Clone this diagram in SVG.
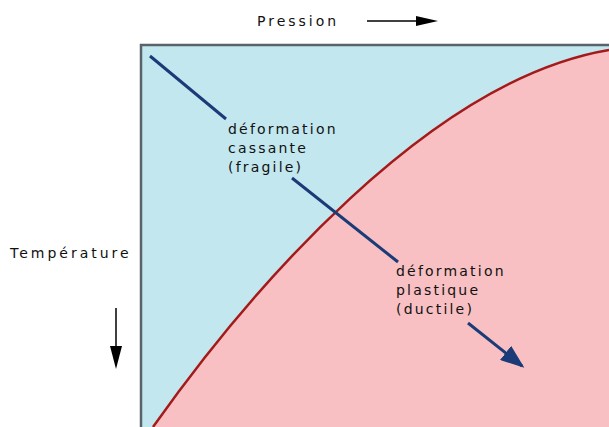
<svg xmlns="http://www.w3.org/2000/svg" width="609" height="427" viewBox="0 0 609 427">
<style>
.t{font-family:"DejaVu Sans",Verdana,sans-serif;font-size:14px;fill:#111;letter-spacing:2.2px}
.a{letter-spacing:3px}
</style>
<defs>
<marker id="bh" markerWidth="8" markerHeight="6" refX="7" refY="3" orient="auto" markerUnits="strokeWidth"><path d="M0,0 L8,3 L0,6 Z" fill="#1b3b78"/></marker>
</defs>
<rect width="609" height="427" fill="#ffffff"/>
<g id="field">
<rect x="142" y="46" width="467" height="381" fill="#c2e7ef"/>
<path d="M153,427 C250,290 430,80 609,50 L609,427 Z" fill="#f8c0c2"/>
<path d="M153,427 C250,290 430,80 609,50" fill="none" stroke="#a41a1a" stroke-width="2.5"/>
<path d="M141,427 V45 H609" fill="none" stroke="#5a6468" stroke-width="2.5"/>
</g>
<g id="connectors" stroke="#1b3b78" stroke-width="3" fill="none">
<line x1="150" y1="56" x2="226" y2="119"/>
<line x1="292" y1="178" x2="398" y2="262"/>
<line x1="468" y1="323" x2="522" y2="366" marker-end="url(#bh)"/>
</g>
<g id="label-cassante">
<text class="t" x="228" y="134">déformation</text>
<text class="t" x="228" y="153">cassante</text>
<text class="t" x="228" y="172">(fragile)</text>
</g>
<g id="label-plastique">
<text class="t" x="396" y="276">déformation</text>
<text class="t" x="396" y="295">plastique</text>
<text class="t" x="396" y="314">(ductile)</text>
</g>
<g id="axis-pression">
<text class="t a" x="257" y="26">Pression</text>
<line x1="367" y1="21" x2="418" y2="21" stroke="#000" stroke-width="1.5"/>
<path d="M416,16 L438,21 L416,26 Z" fill="#000"/>
</g>
<g id="axis-temperature">
<text class="t a" x="10" y="258">Température</text>
<line x1="116" y1="308" x2="116" y2="348" stroke="#000" stroke-width="1.5"/>
<path d="M110,346 L116,369 L122,346 Z" fill="#000"/>
</g>
</svg>
